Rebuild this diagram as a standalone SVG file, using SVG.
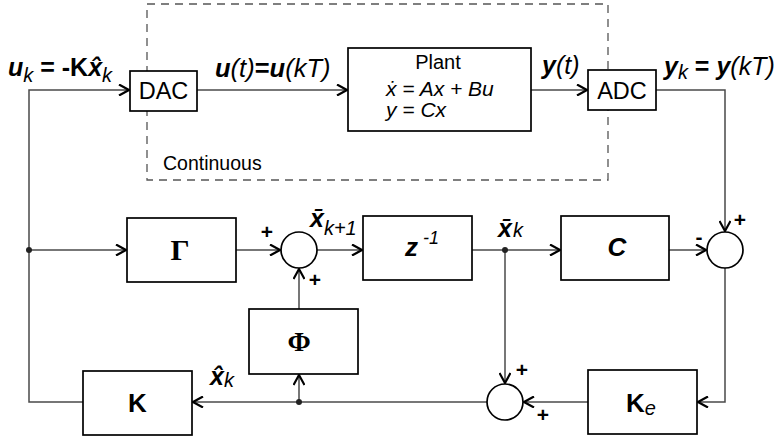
<svg xmlns="http://www.w3.org/2000/svg" width="779" height="439" viewBox="0 0 779 439">
<style>
.box{fill:#fff;stroke:#000;stroke-width:1.7}
.sum{fill:#fff;stroke:#000;stroke-width:1.7}
.arr{fill:none;stroke:#4a4a4a;stroke-width:1.5;marker-end:url(#ah)}
.dot{fill:#222}
.t{font-family:"Liberation Sans",Arial,sans-serif;fill:#000}
.s{font-family:"Liberation Serif","Times New Roman",serif;font-weight:bold;fill:#000}
.bi{font-weight:bold;font-style:italic}
.i{font-style:italic}
.b{font-weight:bold}
.sign{font-family:"Liberation Sans",Arial,sans-serif;font-weight:bold;font-size:21px;text-anchor:middle}
</style>
<defs>
<marker id="ah" viewBox="0 0 12 12" refX="11" refY="6" markerWidth="12" markerHeight="12" markerUnits="userSpaceOnUse" orient="auto">
<path d="M1,0.5 L11,6 L1,11.5" fill="none" stroke="#000" stroke-width="2.2" stroke-linejoin="miter"/>
</marker>
</defs>
<rect width="779" height="439" fill="#fff"/>

<g id="continuous">
<rect x="147" y="4" width="461" height="176" fill="none" stroke="#555" stroke-width="1.3" stroke-dasharray="8,6"/>
<text class="t" x="163" y="170" font-size="19.5">Continuous</text>
</g>

<g id="connectors">
<path class="arr" d="M83,402 H29 V90 H129"/>
<path class="arr" d="M29,250 H126"/>
<path class="arr" d="M197,90 H347"/>
<path class="arr" d="M531,90 H587"/>
<path class="arr" d="M656,90 H725 V231"/>
<path class="arr" d="M236,250 H280"/>
<path class="arr" d="M317,250 H362"/>
<path class="arr" d="M472,250 H560"/>
<path class="arr" d="M669,250 H706"/>
<path class="arr" d="M725,268 V402 H698"/>
<path class="arr" d="M588,402 H524"/>
<path class="arr" d="M505,250 V383"/>
<path class="arr" d="M487,402 H193"/>
<path class="arr" d="M299,402 V375"/>
<path class="arr" d="M299,309 V269"/>
<circle class="dot" cx="29" cy="250" r="3"/>
<circle class="dot" cx="505" cy="250" r="3"/>
<circle class="dot" cx="299" cy="402" r="3"/>
</g>

<g id="dac">
<rect class="box" x="130" y="71" width="67" height="40"/>
<text class="t" x="163.5" y="98.5" font-size="23.5" text-anchor="middle">DAC</text>
</g>

<g id="plant">
<rect class="box" x="348" y="48" width="183" height="83"/>
<text class="t" x="438" y="69" font-size="20" text-anchor="middle">Plant</text>
<text class="t i" x="386" y="96" font-size="21">ẋ = Ax + Bu</text>
<text class="t i" x="386" y="117" font-size="21">y = Cx</text>
</g>

<g id="adc">
<rect class="box" x="588" y="70" width="68" height="40"/>
<text class="t" x="622" y="98.5" font-size="23.5" text-anchor="middle">ADC</text>
</g>

<g id="gamma">
<rect class="box" x="127" y="218" width="109" height="64"/>
<text class="s" x="180" y="260" font-size="30" text-anchor="middle">Γ</text>
</g>

<g id="sum1">
<circle class="sum" cx="299" cy="250" r="18"/>
</g>

<g id="delay">
<rect class="box" x="363" y="216" width="109" height="64"/>
<text class="t" x="405" y="256"><tspan class="bi" font-size="26">z</tspan><tspan class="i" font-size="18" dx="5" dy="-12">-1</tspan></text>
</g>

<g id="c">
<rect class="box" x="561" y="216" width="108" height="64"/>
<text class="t bi" x="617" y="256" font-size="26" text-anchor="middle">C</text>
</g>

<g id="sum2">
<circle class="sum" cx="725" cy="250" r="18"/>
</g>

<g id="phi">
<rect class="box" x="249" y="309" width="109" height="65"/>
<text class="s" x="299" y="351" font-size="28" text-anchor="middle">Φ</text>
</g>

<g id="k">
<rect class="box" x="83" y="371" width="109" height="64"/>
<text class="t b" x="137.5" y="412" font-size="26" text-anchor="middle">K</text>
</g>

<g id="sum3">
<circle class="sum" cx="505" cy="402" r="18"/>
</g>

<g id="ke">
<rect class="box" x="588" y="370" width="109" height="64"/>
<text class="t" x="626" y="412"><tspan class="b" font-size="26">K</tspan><tspan class="i" font-size="20" dy="3">e</tspan></text>
</g>

<g id="labels">
<text class="t" x="8" y="76"><tspan class="bi" font-size="25">u</tspan><tspan class="i" font-size="20" dy="6">k</tspan><tspan class="b" font-size="25" dy="-6"> = -K</tspan><tspan class="bi" font-size="25">x̂</tspan><tspan class="i" font-size="20" dy="6">k</tspan></text>
<text class="t" x="215" y="77" font-size="25.5"><tspan class="bi">u</tspan><tspan class="i">(t)</tspan><tspan class="b">=</tspan><tspan class="bi">u</tspan><tspan class="i">(kT)</tspan></text>
<text class="t" x="542" y="74" font-size="25"><tspan class="bi">y</tspan><tspan class="i">(t)</tspan></text>
<text class="t" x="664" y="75"><tspan class="bi" font-size="25">y</tspan><tspan class="i" font-size="20" dy="4">k</tspan><tspan class="b" font-size="25" dy="-4"> = </tspan><tspan class="bi" font-size="25">y</tspan><tspan class="i" font-size="25">(kT)</tspan></text>
<text class="t" x="310" y="227"><tspan class="bi" font-size="25">x̄</tspan><tspan class="i" font-size="20" dy="8">k+1</tspan></text>
<text class="t" x="498" y="237"><tspan class="bi" font-size="25">x̄</tspan><tspan class="i" font-size="20" dx="1">k</tspan></text>
<text class="t" x="210" y="385"><tspan class="bi" font-size="25">x̂</tspan><tspan class="i" font-size="20" dy="2">k</tspan></text>
<text class="sign" x="267" y="239">+</text>
<text class="sign" x="315" y="287">+</text>
<text class="sign" x="740" y="227">+</text>
<text class="sign" x="699" y="244">-</text>
<text class="sign" x="522" y="377">+</text>
<text class="sign" x="543" y="422">+</text>
</g>
</svg>
